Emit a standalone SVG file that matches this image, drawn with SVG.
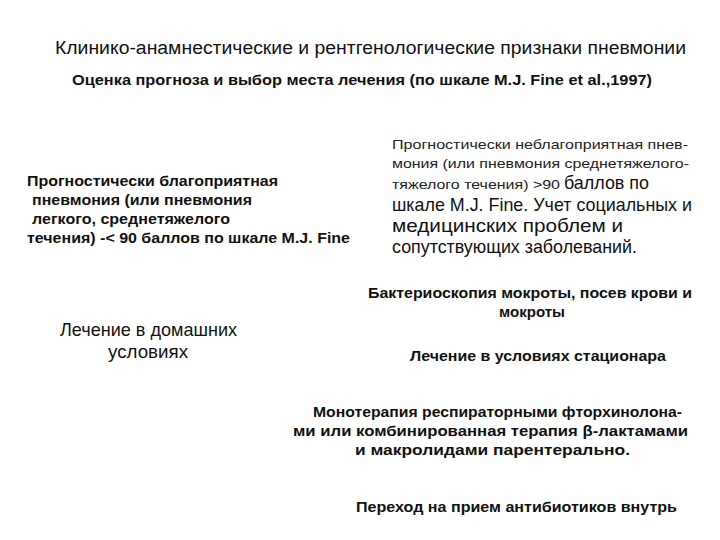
<svg xmlns="http://www.w3.org/2000/svg" width="720" height="540" viewBox="0 0 720 540">
<style>
text{font-family:"Liberation Sans",Arial,sans-serif;fill:#111}
.t{font-size:18px}
.st{font-size:15px;font-weight:bold}
.b{font-size:15px;font-weight:bold}
.sm{font-size:13.5px;fill:#222}
.lg{font-size:18.5px}
.m{font-size:14.5px;font-weight:bold}
.r{font-size:18.5px}
</style>
<rect width="720" height="540" fill="#fff"/>
<g id="title"><text class="t" x="55" y="54" textLength="631" lengthAdjust="spacingAndGlyphs">Клинико-анамнестические и рентгенологические признаки пневмонии</text></g>
<g id="subtitle"><text class="st" x="72" y="85" textLength="580" lengthAdjust="spacingAndGlyphs">Оценка прогноза и выбор места лечения (по шкале M.J. Fine et al.,1997)</text></g>
<g id="favorable">
<text class="b" x="27" y="186" textLength="251" lengthAdjust="spacingAndGlyphs">Прогностически благоприятная</text>
<text class="b" x="32" y="205" textLength="220" lengthAdjust="spacingAndGlyphs">пневмония (или пневмония</text>
<text class="b" x="32" y="224" textLength="198" lengthAdjust="spacingAndGlyphs">легкого, среднетяжелого</text>
<text class="b" x="27" y="243" textLength="323" lengthAdjust="spacingAndGlyphs">течения) -&lt; 90 баллов по шкале M.J. Fine</text>
</g>
<g id="unfavorable">
<text class="sm" x="392" y="149" textLength="296" lengthAdjust="spacingAndGlyphs">Прогностически неблагоприятная пнев-</text>
<text class="sm" x="392" y="168" textLength="297" lengthAdjust="spacingAndGlyphs">мония (или пневмония среднетяжелого-</text>
<text x="392" y="189"><tspan class="sm" textLength="168" lengthAdjust="spacingAndGlyphs">тяжелого течения) &gt;90</tspan><tspan class="lg" x="564" textLength="85" lengthAdjust="spacingAndGlyphs">баллов по</tspan></text>
<text class="lg" x="392" y="211" textLength="300" lengthAdjust="spacingAndGlyphs">шкале M.J. Fine. Учет социальных и</text>
<text class="lg" x="392" y="232" textLength="231" lengthAdjust="spacingAndGlyphs">медицинских проблем и</text>
<text class="lg" x="392" y="253" textLength="245" lengthAdjust="spacingAndGlyphs">сопутствующих заболеваний.</text>
</g>
<g id="bacterioscopy">
<text class="m" x="368" y="298" textLength="324" lengthAdjust="spacingAndGlyphs">Бактериоскопия мокроты, посев крови и</text>
<text class="m" x="499" y="317" textLength="66" lengthAdjust="spacingAndGlyphs">мокроты</text>
</g>
<g id="home">
<text class="r" x="60" y="336" textLength="177" lengthAdjust="spacingAndGlyphs">Лечение в домашних</text>
<text class="r" x="108" y="358" textLength="80" lengthAdjust="spacingAndGlyphs">условиях</text>
</g>
<g id="hospital"><text class="m" x="410" y="361" textLength="256" lengthAdjust="spacingAndGlyphs">Лечение в условиях стационара</text></g>
<g id="therapy">
<text class="m" x="313" y="417" textLength="369" lengthAdjust="spacingAndGlyphs">Монотерапия респираторными фторхинолона-</text>
<text class="m" x="293" y="436" textLength="395" lengthAdjust="spacingAndGlyphs">ми или комбинированная терапия β-лактамами</text>
<text class="m" x="355" y="455" textLength="275" lengthAdjust="spacingAndGlyphs">и макролидами  парентерально.</text>
</g>
<g id="oral"><text class="m" x="356" y="512" textLength="321" lengthAdjust="spacingAndGlyphs">Переход на прием антибиотиков внутрь</text></g>
</svg>
